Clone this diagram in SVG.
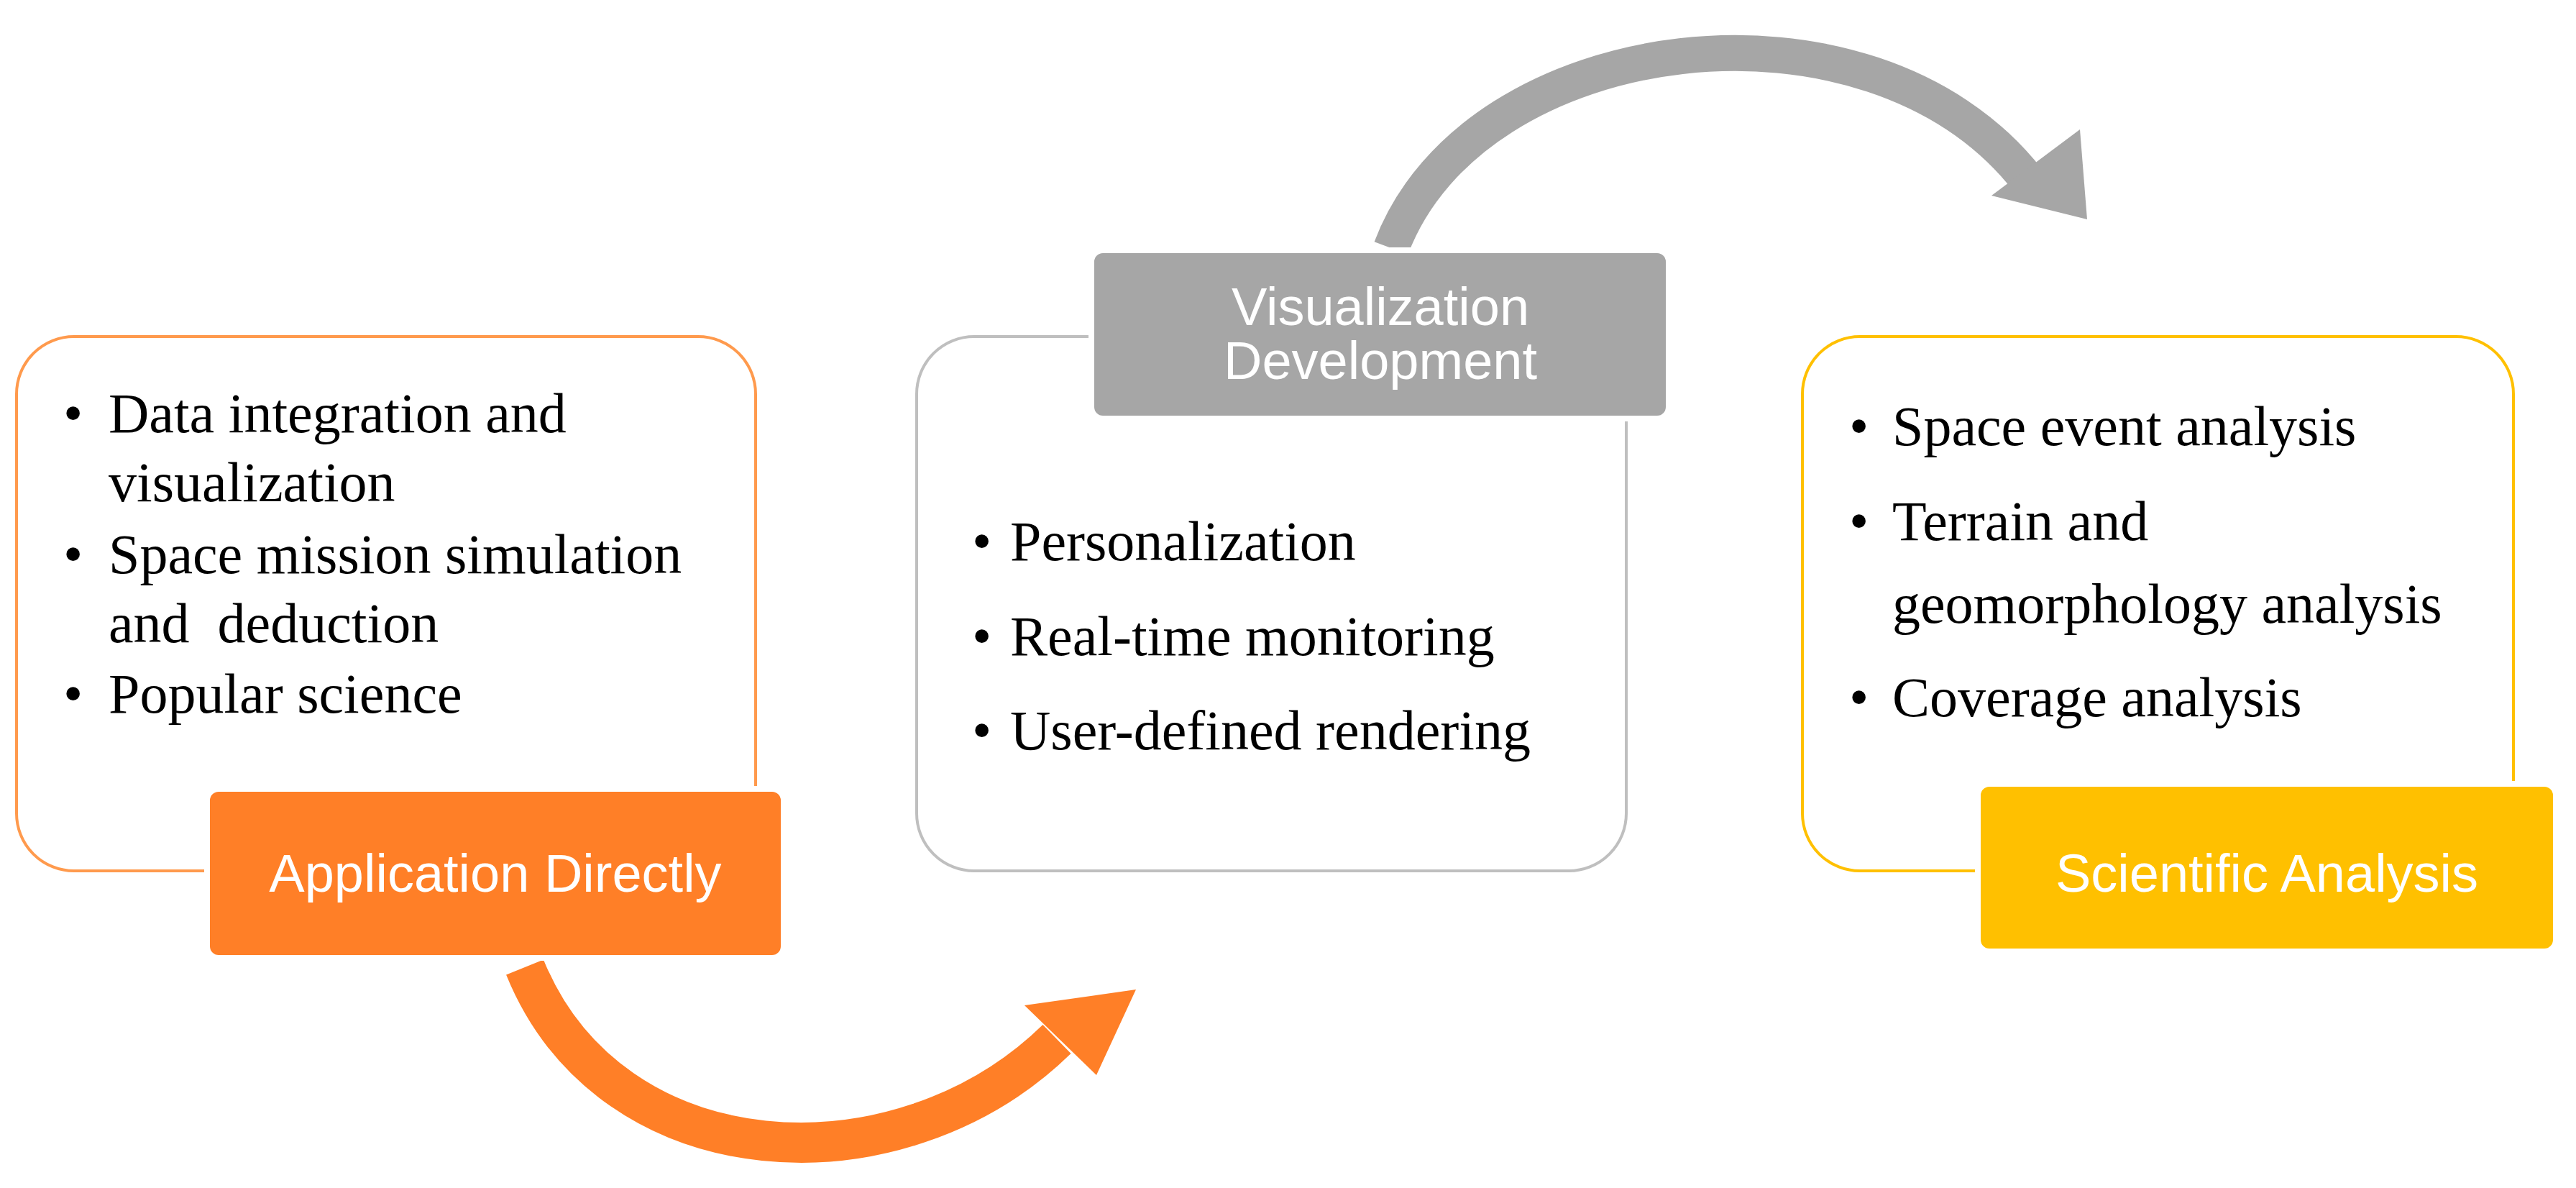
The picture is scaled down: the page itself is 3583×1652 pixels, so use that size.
<svg xmlns="http://www.w3.org/2000/svg" width="3583" height="1652" viewBox="0 0 3583 1652">
<style>
.b{font-family:"Liberation Serif",serif;font-size:78px;fill:#000}
.l{font-family:"Liberation Sans",sans-serif;font-size:74px;fill:#fff;text-anchor:middle}
.box{fill:#fff;stroke-width:4}
.lab{stroke:#fff;stroke-width:8}
</style>
<rect width="3583" height="1652" fill="#fff"/>
<g id="connectors">
<path d="M730 1345 C850 1640 1250 1660 1470 1445" fill="none" stroke="#FF7F27" stroke-width="56"/>
<polygon points="1580,1376 1425,1398 1525,1495" fill="#FF7F27"/>
<path d="M1935 345 C2050 40 2600 -30 2820 250" fill="none" stroke="#A6A6A6" stroke-width="50"/>
<polygon points="2903,305 2770,272 2893,180" fill="#A6A6A6"/>
</g>
<g id="node-application">
<rect class="box" x="23" y="468" width="1028" height="743" rx="80" stroke="#FF9A4D"/>
<text class="b" x="88" y="601">•</text><text class="b" x="151" y="601">Data integration and</text>
<text class="b" x="151" y="697">visualization</text>
<text class="b" x="88" y="797">•</text><text class="b" x="151" y="797">Space mission simulation</text>
<text class="b" x="151" y="893" xml:space="preserve">and  deduction</text>
<text class="b" x="88" y="991">•</text><text class="b" x="151" y="991">Popular science</text>
<rect class="lab" x="288" y="1097" width="802" height="235" rx="16" fill="#FF7F27"/>
<text class="l" x="689" y="1240">Application Directly</text>
</g>
<g id="node-visualization">
<rect class="box" x="1275" y="468" width="987" height="743" rx="80" stroke="#BFBFBF"/>
<text class="b" x="1352" y="779">•</text><text class="b" x="1405" y="779">Personalization</text>
<text class="b" x="1352" y="911">•</text><text class="b" x="1405" y="911">Real-time monitoring</text>
<text class="b" x="1352" y="1042">•</text><text class="b" x="1405" y="1042">User-defined rendering</text>
<rect class="lab" x="1518" y="348" width="803" height="234" rx="16" fill="#A6A6A6"/>
<text class="l" x="1920" y="452">Visualization</text>
<text class="l" x="1920" y="527">Development</text>
</g>
<g id="node-scientific">
<rect class="box" x="2507" y="468" width="989" height="743" rx="80" stroke="#FFC000"/>
<text class="b" x="2572" y="619">•</text><text class="b" x="2632" y="619">Space event analysis</text>
<text class="b" x="2572" y="751">•</text><text class="b" x="2632" y="751">Terrain and</text>
<text class="b" x="2632" y="866">geomorphology analysis</text>
<text class="b" x="2572" y="996">•</text><text class="b" x="2632" y="996">Coverage analysis</text>
<rect class="lab" x="2751" y="1090" width="804" height="233" rx="16" fill="#FFC000"/>
<text class="l" x="3153" y="1240">Scientific Analysis</text>
</g>
</svg>
